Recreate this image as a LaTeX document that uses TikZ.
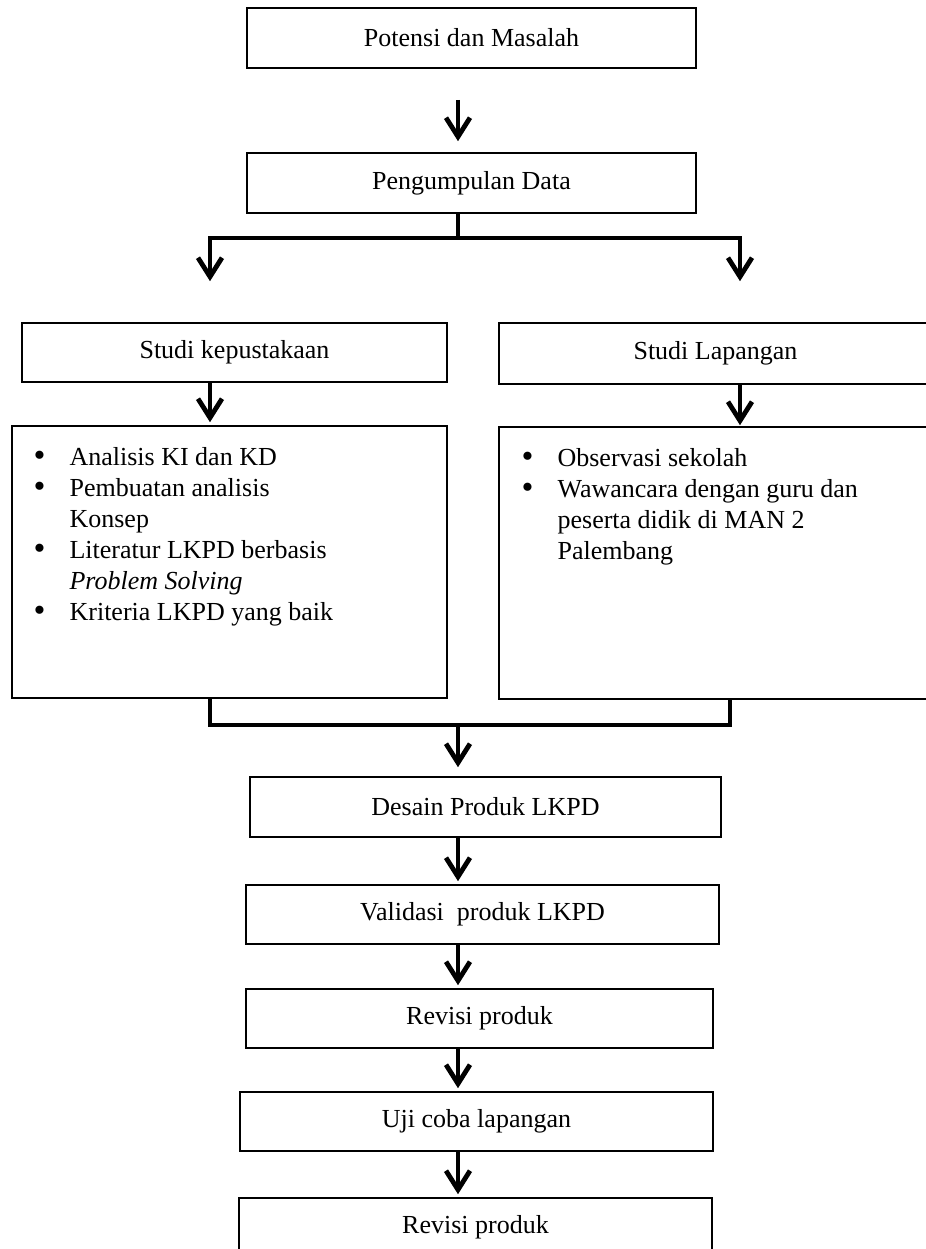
\documentclass[tikz,border=0pt]{standalone}
\usepackage{fontspec}
\setmainfont{Liberation Serif}
\usetikzlibrary{positioning,arrows.meta}
\newcommand{\bul}{\raisebox{-0.5pt}{\fontsize{17}{15.5}\selectfont\textbullet}}

\begin{document}
\begin{tikzpicture}[x=0.5pt,y=-0.5pt,font=\fontsize{13}{15.5}\selectfont,
  >={Straight Barb[length=9.5pt,width=12pt]},
  box/.style={draw=black,line width=0.8pt,inner sep=0pt,align=center},
  list/.style={inner sep=0pt,anchor=north west,align=left},
  ln/.style={line width=2.4pt},
  arr/.style={ln,->}]
 \useasboundingbox (0,0) rectangle (926,1249);
 \node[box,minimum width=224.5pt,minimum height=30pt] (pm) at (471.5,38) {Potensi dan Masalah};
 \node[box,minimum width=224.5pt,minimum height=30pt] (pd) at (471.5,183) {Pengumpulan Data};
 \node[box,minimum width=212.5pt,minimum height=29.5pt] (sk) at (234.5,352.5) {Studi kepustakaan};
 \node[box,minimum width=216.5pt,minimum height=30.5pt] (sl) at (715.5,353.5) {Studi Lapangan};
 \node[box,minimum width=217.5pt,minimum height=136pt] (kb) at (229.5,562) {};
 \node[box,minimum width=216.5pt,minimum height=136pt] (lb) at (715.5,563) {};
 \node[list] (kt) at ([xshift=11pt,yshift=-9pt]kb.north west)
  {\begin{tabular}{@{}p{18pt}@{}l@{}}
   \bul & Analisis KI dan KD\\
   \bul & Pembuatan analisis\\
        & Konsep\\
   \bul & Literatur LKPD berbasis\\
        & \textit{Problem Solving}\\
   \bul & Kriteria LKPD yang baik
   \end{tabular}};
 \node[list] (lt) at ([xshift=11.5pt,yshift=-9pt]lb.north west)
  {\begin{tabular}{@{}p{18pt}@{}l@{}}
   \bul & Observasi sekolah\\
   \bul & Wawancara dengan guru dan\\
        & peserta didik di MAN 2\\
        & Palembang
   \end{tabular}};
 \node[box,minimum width=235.5pt,minimum height=30pt] (ds) at (485.5,807) {Desain Produk LKPD};
 \node[box,minimum width=236.5pt,minimum height=29.5pt] (vp) at (482.5,914.5) {Validasi~ produk LKPD};
 \node[box,minimum width=233.5pt,minimum height=29.5pt] (rp) at (479.5,1018.5) {Revisi produk};
 \node[box,minimum width=236.5pt,minimum height=29.5pt] (uj) at (476.5,1121.5) {Uji coba lapangan};
 \node[box,minimum width=236.5pt,minimum height=29.5pt] (rq) at (475.5,1227.5) {Revisi produk};
 % fork and join points
 \coordinate (mid) at (458,238); \coordinate (join) at (458,725);
 \coordinate (lcol) at (210,0); \coordinate (rcol) at (740,0); \coordinate (rjoin) at (730,0);
 \draw[arr,shorten <=15.5pt,shorten >=5.5pt] (pm.south -| mid) -- (pd.north -| mid);
 \draw[ln] (pd.south -| mid) -- (mid);
 \draw[arr,shorten >=20.5pt] (mid) -| (sk.north -| lcol);
 \draw[arr,shorten >=20.5pt] (mid) -| (sl.north -| rcol);
 \draw[arr,shorten >=1.5pt] (sk.south -| lcol) -- (kb.north -| lcol);
 \draw[arr,shorten >=0.5pt] (sl.south -| rcol) -- (lb.north -| rcol);
 \draw[ln] (kb.south -| lcol) |- (join) -| (lb.south -| rjoin);
 \draw[arr,shorten >=4.5pt] (join) -- (ds.north -| join);
 \foreach \a/\b in {ds/vp,vp/rp,rp/uj,uj/rq}
  \draw[arr,shorten >=1.5pt] (\a.south -| join) -- (\b.north -| join);
\end{tikzpicture}
\end{document}
